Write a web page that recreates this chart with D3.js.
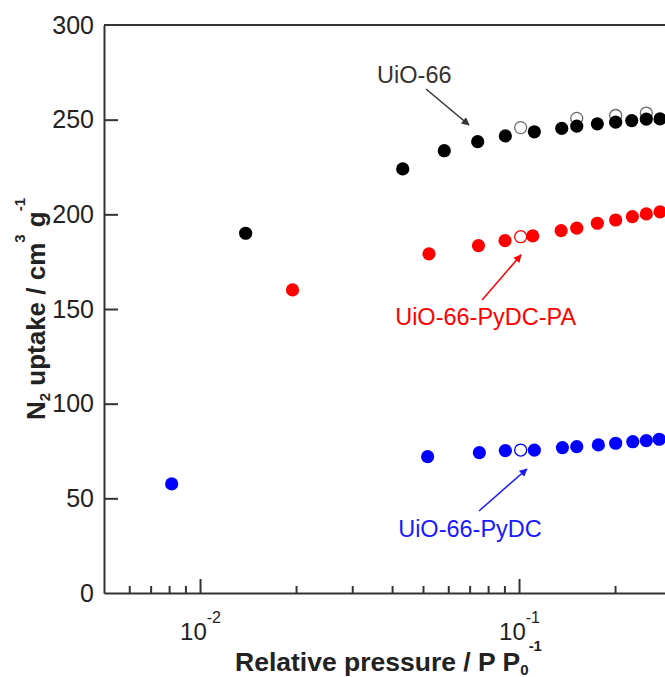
<!DOCTYPE html>
<html>
<head>
<meta charset="utf-8">
<script src="https://cdn.jsdelivr.net/npm/d3@7"></script>
<style>
  html, body { margin: 0; padding: 0; background: #fff; overflow: hidden; }
  svg { display: block; font-family: "Liberation Sans", Arial, sans-serif; }
</style>
</head>
<body>
<svg id="chart" width="665" height="677"></svg>
<script>
// ---------- data ----------
const seriesNames = ["UiO-66", "UiO-66-PyDC-PA", "UiO-66-PyDC"];
const seriesColors = ["#000000", "#ff0000", "#0000ff"];
const openStroke = ["#6a6a6a", "#ff0000", "#0000ff"];

const uio66AdsX = [0.0139, 0.0432, 0.0583, 0.0742, 0.0906, 0.1117, 0.1361, 0.1517, 0.176, 0.2009, 0.2256, 0.2506, 0.2767];
const uio66AdsY = [190.0, 224.0, 233.6, 238.4, 241.4, 243.6, 245.4, 246.6, 247.8, 248.7, 249.5, 250.3, 250.4];
const uio66DesX = [0.1012, 0.1517, 0.2009, 0.2506];
const uio66DesY = [245.8, 250.7, 252.2, 253.5];

const paAdsX = [0.0195, 0.0522, 0.0746, 0.0904, 0.1104, 0.1355, 0.1517, 0.176, 0.2009, 0.2266, 0.2506, 0.2767];
const paAdsY = [160.1, 179.1, 183.5, 186.1, 188.6, 191.4, 192.7, 195.3, 197.0, 198.8, 200.2, 201.3];
const paDesX = [0.1012];
const paDesY = [188.2];

const pydcAdsX = [0.00815, 0.0517, 0.0751, 0.0906, 0.1117, 0.1368, 0.1517, 0.1773, 0.2009, 0.2273, 0.2506, 0.2751];
const pydcAdsY = [57.6, 72.0, 74.1, 75.2, 75.5, 76.8, 77.3, 78.2, 79.1, 79.9, 80.5, 81.2];
const pydcDesX = [0.1012];
const pydcDesY = [75.5];

const yTicks = [0, 50, 100, 150, 200, 250, 300];
const yTickLabels = ["0", "50", "100", "150", "200", "250", "300"];
const xMajorTicks = [0.01, 0.1];
const xMajorLabels = [["10", "-2"], ["10", "-1"]];
const xMinorTicks = [0.006, 0.007, 0.008, 0.009, 0.02, 0.03, 0.04, 0.05, 0.06, 0.07, 0.08, 0.09, 0.2, 0.3, 0.4, 0.5, 0.6, 0.7, 0.8, 0.9];

// annotation label anchor and arrow (data coordinates: x = P/P0, y = uptake)
const annLabelX = [0.0359, 0.0409, 0.0418];
const annLabelY = [269.4, 141.6, 29.6];
const annArrowFromX = [0.0511, 0.0766, 0.0749];
const annArrowFromY = [266.2, 154.8, 43.3];
const annArrowToX = [0.0697, 0.1015, 0.1059];
const annArrowToY = [247.2, 178.6, 65.5];
const annColors = ["#333333", "#ff0000", "#1a1aff"];

// ---------- layout ----------
const svg = d3.select("#chart");
const axisColor = "#333333";
const x = d3.scaleLog().domain([0.005, 1]).range([104, 104 + Math.log10(200) * 319]);
const y = d3.scaleLinear().domain([0, 300]).range([593, 25]);

// frame top line
svg.append("line")
  .attr("x1", x(0.005)).attr("x2", x(1))
  .attr("y1", y(300)).attr("y2", y(300))
  .attr("stroke", axisColor).attr("stroke-width", 2);

// y axis
const yAxis = d3.axisLeft(y)
  .tickValues(yTicks)
  .tickFormat((d, i) => yTickLabels[i])
  .tickSizeInner(-14).tickSizeOuter(0).tickPadding(10);
const gy = svg.append("g").attr("transform", `translate(${x(0.005)},0)`).call(yAxis);
gy.select(".domain").attr("stroke", axisColor).attr("stroke-width", 2);
gy.selectAll(".tick line").attr("stroke", axisColor).attr("stroke-width", 2)
  .attr("opacity", d => (d === 0 || d === 300) ? 0 : 1);
gy.selectAll(".tick text").attr("font-size", 25).attr("fill", "#222")
  .attr("font-family", "Liberation Sans, Arial, sans-serif");

// x axis minor
const xMinorAxis = d3.axisBottom(x).tickValues(xMinorTicks).tickFormat("")
  .tickSizeInner(-7).tickSizeOuter(0);
const gxm = svg.append("g").attr("transform", `translate(0,${y(0)})`).call(xMinorAxis);
gxm.select(".domain").attr("stroke", axisColor).attr("stroke-width", 2);
gxm.selectAll(".tick line").attr("stroke", axisColor).attr("stroke-width", 2);

// x axis major
const xMajorAxis = d3.axisBottom(x).tickValues(xMajorTicks).tickFormat("")
  .tickSizeInner(-14).tickSizeOuter(0);
const gx = svg.append("g").attr("transform", `translate(0,${y(0)})`).call(xMajorAxis);
gx.select(".domain").remove();
gx.selectAll(".tick line").attr("stroke", axisColor).attr("stroke-width", 2);
gx.selectAll(".tick text").remove();
gx.selectAll(".tick").each(function (d, i) {
  const t = d3.select(this).append("text")
    .attr("x", 0).attr("y", 47)
    .attr("text-anchor", "middle")
    .attr("fill", "#222")
    .attr("font-family", "Liberation Sans, Arial, sans-serif");
  t.append("tspan").attr("font-size", 24).text(xMajorLabels[i][0]);
  t.append("tspan").attr("font-size", 16).attr("dy", -17).text(xMajorLabels[i][1]);
});

// axis titles
const xt = svg.append("text")
  .attr("x", 235).attr("y", 671)
  .attr("font-weight", "bold").attr("font-size", 26.5).attr("fill", "#222");
xt.append("tspan").text("Relative pressure / P P");
xt.append("tspan").attr("font-size", 15).attr("dy", 4).text("0");
xt.append("tspan").attr("font-size", 15).attr("dy", -24).text("-1");

const yt = svg.append("text")
  .attr("transform", `translate(45,${(y(0) + y(300)) / 2}) rotate(-90)`)
  .attr("text-anchor", "middle")
  .attr("font-weight", "bold").attr("font-size", 26).attr("fill", "#222");
yt.append("tspan").text("N");
yt.append("tspan").attr("font-size", 15).attr("dy", 5).text("2");
yt.append("tspan").attr("dy", -5).text(" uptake / cm");
yt.append("tspan").attr("font-size", 15).attr("dy", -20).text("3");
yt.append("tspan").attr("dy", 20).text(" g");
yt.append("tspan").attr("font-size", 15).attr("dy", -20).text("-1");

// ---------- points ----------
const adsX = [uio66AdsX, paAdsX, pydcAdsX];
const adsY = [uio66AdsY, paAdsY, pydcAdsY];
const desX = [uio66DesX, paDesX, pydcDesX];
const desY = [uio66DesY, paDesY, pydcDesY];
const r = 6.6;

seriesNames.forEach((name, s) => {
  const g = svg.append("g").attr("class", "series");
  g.selectAll("circle.des").data(desX[s].map((v, i) => [v, desY[s][i]])).join("circle")
    .attr("class", "des")
    .attr("cx", d => x(d[0])).attr("cy", d => y(d[1])).attr("r", r - 0.6)
    .attr("fill", "#fff").attr("stroke", openStroke[s]).attr("stroke-width", 1.3);
  g.selectAll("circle.ads").data(adsX[s].map((v, i) => [v, adsY[s][i]])).join("circle")
    .attr("class", "ads")
    .attr("cx", d => x(d[0])).attr("cy", d => y(d[1])).attr("r", r)
    .attr("fill", seriesColors[s]);
});

// ---------- annotations ----------
const defs = svg.append("defs");
seriesNames.forEach((name, s) => {
  defs.append("marker")
    .attr("id", "arrow" + s)
    .attr("viewBox", "0 0 10 10")
    .attr("refX", 9).attr("refY", 5)
    .attr("markerWidth", 12).attr("markerHeight", 8)
    .attr("markerUnits", "userSpaceOnUse")
    .attr("orient", "auto")
    .append("path").attr("d", "M0,0 L10,5 L0,10 Z").attr("fill", annColors[s]);

  svg.append("line")
    .attr("x1", x(annArrowFromX[s])).attr("y1", y(annArrowFromY[s]))
    .attr("x2", x(annArrowToX[s])).attr("y2", y(annArrowToY[s]))
    .attr("stroke", annColors[s]).attr("stroke-width", 1.5)
    .attr("marker-end", `url(#arrow${s})`);

  svg.append("text")
    .attr("x", x(annLabelX[s])).attr("y", y(annLabelY[s]))
    .attr("font-size", 23.5).attr("fill", annColors[s])
    .text(name);
});
</script>
</body>
</html>
